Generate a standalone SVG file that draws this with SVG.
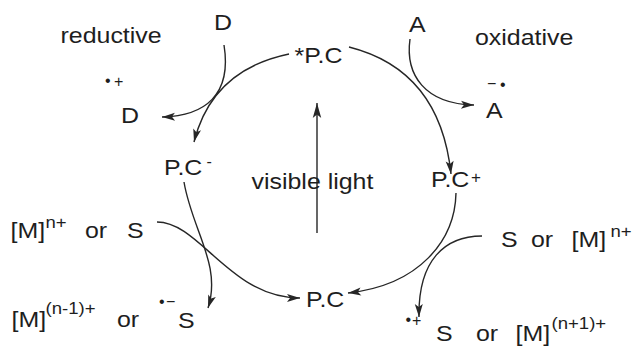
<svg xmlns="http://www.w3.org/2000/svg" width="633" height="347" viewBox="0 0 633 347">
<defs>
<style>
.t{font-family:"Liberation Sans",Arial,sans-serif;font-size:21.5px;fill:#1e1e1e}
.s{font-family:"Liberation Sans",Arial,sans-serif;font-size:16px;fill:#1e1e1e}
.c{fill:none;stroke:#262626;stroke-width:1.4}
</style>
<marker id="ah" markerUnits="userSpaceOnUse" markerWidth="14" markerHeight="8" refX="13" refY="4" orient="auto" overflow="visible">
<path d="M0,0 L13,4 L0,8 L3,4 z" fill="#262626"/>
</marker>
<marker id="ahL" markerUnits="userSpaceOnUse" markerWidth="16" markerHeight="9" refX="15" refY="4.25" orient="auto" overflow="visible">
<path d="M0,0 L15,4.25 L0,8.5 L3.5,4.25 z" fill="#262626"/>
</marker>
</defs>
<rect width="633" height="347" fill="#ffffff"/>

<g id="connectors">
<path class="c" d="M289,54 Q212,70 194,142" marker-end="url(#ah)"/>
<path class="c" d="M224,45 C232,95 205,116 162,117" marker-end="url(#ah)"/>
<path class="c" d="M349,47 Q440,70 451,174" marker-end="url(#ah)"/>
<path class="c" d="M410,39 C405,75 425,104 474,105" marker-end="url(#ah)"/>
<path class="c" d="M184,182 C192,230 222,265 208,308" marker-end="url(#ah)"/>
<path class="c" d="M157,222 C200,222 230,298 300,298" marker-end="url(#ah)"/>
<path class="c" d="M456,193 C455,240 420,285 348,293" marker-end="url(#ah)"/>
<path class="c" d="M482,236 C445,236 418,260 419,317" marker-end="url(#ah)"/>
<path class="c" d="M317,233 L317,103" marker-end="url(#ahL)"/>
</g>

<g id="label-reductive"><text class="t" transform="translate(60.5,43) scale(1.16,1)">reductive</text></g>
<g id="label-oxidative"><text class="t" transform="translate(475,45) scale(1.16,1)">oxidative</text></g>

<g id="node-D"><text class="t" transform="translate(214,30) scale(1.16,1)">D</text></g>
<g id="node-D-radical-cation">
<text class="s" x="105" y="86">•</text><text class="s" x="114" y="86.5">+</text>
<text class="t" transform="translate(121,123) scale(1.16,1)">D</text>
</g>

<g id="node-PC-excited"><text class="t" transform="translate(294.5,63) scale(1.16,1)">*P.C</text></g>

<g id="node-A"><text class="t" transform="translate(409,32) scale(1.16,1)">A</text></g>
<g id="node-A-radical-anion">
<text class="s" x="487" y="89">−</text><text class="s" x="500" y="89.5">•</text>
<text class="t" transform="translate(486,118) scale(1.16,1)">A</text>
</g>

<g id="node-PC-minus">
<text class="t" transform="translate(164,175) scale(1.16,1)">P.C</text>
<text class="s" x="206.5" y="167">-</text>
</g>

<g id="node-PC-plus">
<text class="t" transform="translate(431,187) scale(1.16,1)">P.C</text>
<text class="s" x="471" y="183" style="font-size:17px">+</text>
</g>

<g id="node-PC"><text class="t" transform="translate(306,307) scale(1.16,1)">P.C</text></g>

<g id="label-visible-light"><text class="t" transform="translate(251.5,189) scale(1.16,1)">visible light</text></g>

<g id="node-M-or-S-left">
<text class="t" transform="translate(10.5,238) scale(1.16,1)">[M]</text>
<text class="s" transform="translate(45.5,228) scale(1.16,1)">n+</text>
<text class="t" transform="translate(85,238) scale(1.16,1)">or</text>
<text class="t" transform="translate(127,238) scale(1.16,1)">S</text>
</g>

<g id="node-M-reduced-or-S-anion">
<text class="t" transform="translate(11.5,327) scale(1.16,1)">[M]</text>
<text class="s" transform="translate(45.5,313.5) scale(1.16,1)">(n-1)+</text>
<text class="t" transform="translate(117,327) scale(1.16,1)">or</text>
<text class="s" x="159" y="307">•</text><text class="s" x="166" y="307">−</text>
<text class="t" transform="translate(178,328) scale(1.16,1)">S</text>
</g>

<g id="node-S-or-M-right">
<text class="t" transform="translate(501,247) scale(1.16,1)">S</text>
<text class="t" transform="translate(531,247) scale(1.16,1)">or</text>
<text class="t" transform="translate(571.5,247) scale(1.16,1)">[M]</text>
<text class="s" transform="translate(610.5,237) scale(1.16,1)">n+</text>
</g>

<g id="node-S-cation-or-M-oxidized">
<text class="s" x="405.5" y="325">•</text><text class="s" x="412" y="325.5">+</text>
<text class="t" transform="translate(436,341) scale(1.16,1)">S</text>
<text class="t" transform="translate(476,341) scale(1.16,1)">or</text>
<text class="t" transform="translate(515.5,341) scale(1.16,1)">[M]</text>
<text class="s" transform="translate(551.5,328.5) scale(1.16,1)">(n+1)+</text>
</g>
</svg>
